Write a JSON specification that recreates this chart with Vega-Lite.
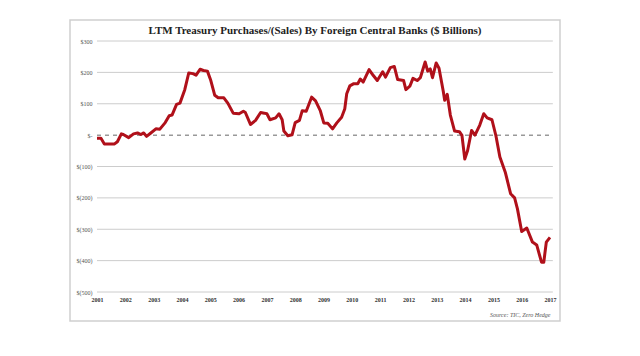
{
  "$schema": "https://vega.github.io/schema/vega-lite/v6.json",
  "autosize": {"type": "none"},
  "width": 490,
  "height": 301,
  "padding": {"left": 70, "top": 20, "right": 80, "bottom": 35},
  "background": "white",
  "config": {
    "view": {"stroke": "#cfcfcf", "strokeWidth": 1.5},
    "font": "Liberation Serif",
    "axis": {"labelOverlap": false, "labelBound": false, "labelFlush": false}
  },
  "title": {
    "text": "LTM Treasury Purchases/(Sales) By Foreign Central Banks ($ Billions)",
    "font": "Liberation Serif",
    "fontSize": 11,
    "fontWeight": "bold",
    "color": "#222",
    "anchor": "middle",
    "offset": -16
  },
  "resolve": {"axis": {"x": "independent", "y": "independent"}},
  "layer": [
    {
      "data": {"values": [{"v": 300}, {"v": 200}, {"v": 100}, {"v": -100}, {"v": -200}, {"v": -300}, {"v": -400}, {"v": -500}]},
      "mark": {"type": "rule", "color": "#cccccc", "strokeWidth": 1},
      "encoding": {
        "y": {"field": "v", "type": "quantitative", "axis": null},
        "x": {"datum": 2001, "axis": null},
        "x2": {"datum": 2017.1}
      }
    },
    {
      "data": {"values": [{"v": 0}]},
      "mark": {"type": "rule", "color": "#999999", "strokeWidth": 1.5, "strokeDash": [4, 4]},
      "encoding": {
        "y": {"field": "v", "type": "quantitative", "axis": null},
        "x": {"datum": 2001, "axis": null},
        "x2": {"datum": 2017.1}
      }
    },
    {
      "data": {"values": [
        {"t": 2001.00, "v": -10}, {"t": 2001.14, "v": -10}, {"t": 2001.26, "v": -28}, {"t": 2001.43, "v": -28},
        {"t": 2001.62, "v": -28}, {"t": 2001.72, "v": -21}, {"t": 2001.86, "v": 4}, {"t": 2001.93, "v": 2},
        {"t": 2002.12, "v": -8}, {"t": 2002.29, "v": 4}, {"t": 2002.43, "v": 7}, {"t": 2002.55, "v": 2},
        {"t": 2002.65, "v": 7}, {"t": 2002.75, "v": -4}, {"t": 2002.89, "v": 6}, {"t": 2003.08, "v": 20},
        {"t": 2003.22, "v": 19}, {"t": 2003.41, "v": 40}, {"t": 2003.55, "v": 62}, {"t": 2003.65, "v": 64},
        {"t": 2003.81, "v": 98}, {"t": 2003.93, "v": 102}, {"t": 2004.10, "v": 145}, {"t": 2004.24, "v": 198},
        {"t": 2004.39, "v": 196}, {"t": 2004.50, "v": 191}, {"t": 2004.64, "v": 210}, {"t": 2004.76, "v": 206},
        {"t": 2004.90, "v": 204}, {"t": 2005.02, "v": 174}, {"t": 2005.16, "v": 127}, {"t": 2005.28, "v": 119},
        {"t": 2005.48, "v": 119}, {"t": 2005.62, "v": 102}, {"t": 2005.81, "v": 70}, {"t": 2006.02, "v": 68},
        {"t": 2006.17, "v": 76}, {"t": 2006.24, "v": 72}, {"t": 2006.42, "v": 34}, {"t": 2006.60, "v": 47},
        {"t": 2006.78, "v": 72}, {"t": 2006.91, "v": 70}, {"t": 2007.00, "v": 68}, {"t": 2007.11, "v": 49},
        {"t": 2007.31, "v": 55}, {"t": 2007.43, "v": 68}, {"t": 2007.54, "v": 49}, {"t": 2007.60, "v": 13},
        {"t": 2007.74, "v": -2}, {"t": 2007.89, "v": 1}, {"t": 2008.00, "v": 40}, {"t": 2008.15, "v": 47},
        {"t": 2008.25, "v": 78}, {"t": 2008.39, "v": 76}, {"t": 2008.58, "v": 121}, {"t": 2008.72, "v": 109},
        {"t": 2008.89, "v": 77}, {"t": 2009.01, "v": 39}, {"t": 2009.15, "v": 38}, {"t": 2009.32, "v": 20},
        {"t": 2009.47, "v": 39}, {"t": 2009.64, "v": 57}, {"t": 2009.75, "v": 83}, {"t": 2009.82, "v": 132},
        {"t": 2009.93, "v": 157}, {"t": 2010.07, "v": 164}, {"t": 2010.21, "v": 164}, {"t": 2010.30, "v": 179},
        {"t": 2010.40, "v": 169}, {"t": 2010.61, "v": 209}, {"t": 2010.76, "v": 190}, {"t": 2010.90, "v": 174},
        {"t": 2011.09, "v": 202}, {"t": 2011.19, "v": 185}, {"t": 2011.36, "v": 215}, {"t": 2011.50, "v": 219},
        {"t": 2011.62, "v": 177}, {"t": 2011.83, "v": 174}, {"t": 2011.91, "v": 145}, {"t": 2012.05, "v": 156},
        {"t": 2012.16, "v": 181}, {"t": 2012.31, "v": 174}, {"t": 2012.42, "v": 183}, {"t": 2012.59, "v": 233},
        {"t": 2012.68, "v": 204}, {"t": 2012.77, "v": 211}, {"t": 2012.85, "v": 183}, {"t": 2012.98, "v": 230},
        {"t": 2013.08, "v": 213}, {"t": 2013.23, "v": 140}, {"t": 2013.28, "v": 111}, {"t": 2013.37, "v": 130},
        {"t": 2013.48, "v": 64}, {"t": 2013.63, "v": 13}, {"t": 2013.80, "v": 11}, {"t": 2013.89, "v": -1},
        {"t": 2013.99, "v": -76}, {"t": 2014.09, "v": -49}, {"t": 2014.23, "v": 15}, {"t": 2014.35, "v": 0},
        {"t": 2014.52, "v": 32}, {"t": 2014.66, "v": 68}, {"t": 2014.78, "v": 55}, {"t": 2014.95, "v": 49},
        {"t": 2015.09, "v": -2}, {"t": 2015.23, "v": -70}, {"t": 2015.42, "v": -118}, {"t": 2015.61, "v": -187},
        {"t": 2015.75, "v": -200}, {"t": 2015.85, "v": -235}, {"t": 2016.00, "v": -307}, {"t": 2016.18, "v": -296},
        {"t": 2016.38, "v": -341}, {"t": 2016.53, "v": -350}, {"t": 2016.70, "v": -405}, {"t": 2016.78, "v": -405},
        {"t": 2016.87, "v": -341}, {"t": 2017.00, "v": -326}
      ]},
      "mark": {"type": "line", "color": "#b0101a", "strokeWidth": 3, "strokeJoin": "round"},
      "encoding": {
        "x": {
          "field": "t", "type": "quantitative",
          "scale": {"domain": [2001, 2017], "range": [27, 480], "nice": false, "zero": false},
          "axis": {
            "values": [2001, 2002, 2003, 2004, 2005, 2006, 2007, 2008, 2009, 2010, 2011, 2012, 2013, 2014, 2015, 2016, 2017],
            "format": "d", "grid": false, "domain": false, "ticks": false,
            "offset": -26, "labelPadding": 1, "labelFontSize": 6, "labelFontWeight": "bold",
            "labelColor": "#333", "labelFont": "Liberation Serif", "labelOverlap": false,
            "title": "Source: TIC, Zero Hedge", "titleAnchor": "end", "titleFontSize": 6,
            "titleFontStyle": "italic", "titleFontWeight": "normal", "titleColor": "#555",
            "titleFont": "Liberation Serif", "titlePadding": 9
          }
        },
        "y": {
          "field": "v", "type": "quantitative",
          "scale": {"domain": [-500, 300], "range": [272, 21], "nice": false, "zero": false},
          "axis": {
            "values": [300, 200, 100, 0, -100, -200, -300, -400, -500],
            "labelExpr": "datum.value > 0 ? '$' + datum.value : (datum.value == 0 ? '$-' : '$(' + abs(datum.value) + ')')",
            "grid": false, "domain": false, "ticks": false, "labelOverlap": false,
            "offset": -24, "labelPadding": 2, "labelFontSize": 6,
            "labelColor": "#555", "labelFont": "Liberation Serif", "title": null
          }
        }
      }
    }
  ]
}
